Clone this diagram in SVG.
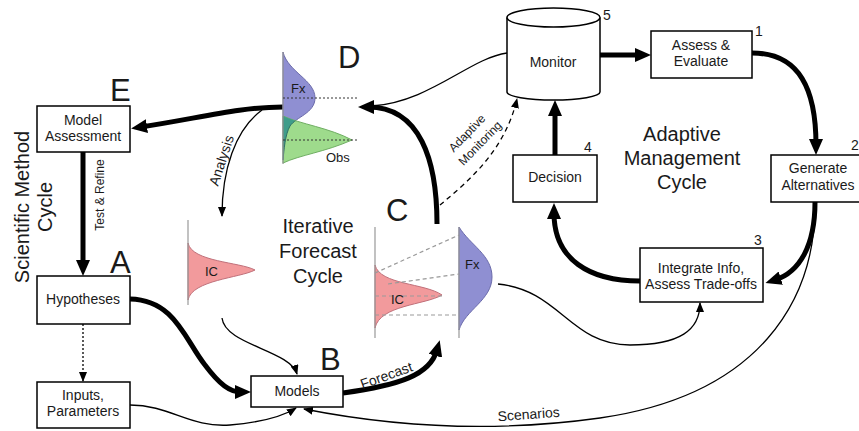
<svg xmlns="http://www.w3.org/2000/svg" width="859" height="431" viewBox="0 0 859 431">
<style>
text{font-family:"Liberation Sans",Arial,sans-serif;fill:#1a1a1a}
.box{fill:#fff;stroke:#000;stroke-width:1.5}
.bt{font-size:14px;text-anchor:middle}
.num{font-size:14px}
.big{font-size:31px}
.cyc{font-size:20px;text-anchor:middle}
.lbl{font-size:14px;text-anchor:middle}
.thick{fill:none;stroke:#000;stroke-width:5}
.thin{fill:none;stroke:#000;stroke-width:1.3}
.axis{stroke:#999;stroke-width:1.2;fill:none}
.dot{stroke:#333;stroke-width:1;stroke-dasharray:2,2;fill:none}
.gdash{stroke:#999;stroke-width:1.2;stroke-dasharray:4,3;fill:none}
</style>
<defs>
<marker id="ahT" viewBox="0 0 16 14" refX="6" refY="7" markerWidth="16" markerHeight="14" markerUnits="userSpaceOnUse" orient="auto"><path d="M0,0 L16,7 L0,14 z" fill="#000"/></marker>
<marker id="ah" viewBox="0 0 10 8" refX="9" refY="4" markerWidth="10" markerHeight="8" markerUnits="userSpaceOnUse" orient="auto"><path d="M0,0 L10,4 L0,8 z" fill="#000"/></marker>
<clipPath id="greenClip"><path d="M283,116 C300,124 330,128 352,140 C325,152 300,155 283,163 Z"/></clipPath>
</defs>

<!-- cycle titles -->
<g id="titles">
<text class="cyc" transform="translate(29,207) rotate(-90)">Scientific Method</text>
<text class="cyc" transform="translate(52,207) rotate(-90)">Cycle</text>
<text class="cyc" x="318" y="233">Iterative</text>
<text class="cyc" x="318" y="258">Forecast</text>
<text class="cyc" x="318" y="283">Cycle</text>
<text class="cyc" x="682" y="141">Adaptive</text>
<text class="cyc" x="682" y="165">Management</text>
<text class="cyc" x="682" y="189">Cycle</text>
</g>

<!-- letters -->
<g id="letters">
<text class="big" x="110" y="101">E</text>
<text class="big" x="338" y="68">D</text>
<text class="big" x="386" y="221">C</text>
<text class="big" x="320" y="370">B</text>
<text class="big" x="110" y="273">A</text>
</g>

<!-- connectors -->
<g id="connectors">
<path class="thick" d="M83,152 L83,266" marker-end="url(#ahT)"/>
<path class="thin" d="M83,324 L83,381" stroke-dasharray="2,2" marker-end="url(#ah)"/>
<path class="thick" d="M283,107 C240,107 200,118 141,127" marker-end="url(#ahT)"/>
<path class="thin" d="M262,110 C235,130 222,170 222,216" marker-end="url(#ah)"/>
<path class="thin" d="M222,318 C225,345 290,350 297,374" marker-end="url(#ah)"/>
<path class="thick" d="M130,299 C175,300 185,340 205,365 C220,385 230,392 241,392" marker-end="url(#ahT)"/>
<path class="thin" d="M130,405 C170,405 190,428 230,425 C265,422 285,415 296,408" marker-end="url(#ah)"/>
<path class="thick" d="M343,393 C400,385 430,375 437,350" marker-end="url(#ahT)"/>
<path class="thin" d="M815,205 C815,300 760,395 600,418 C500,432 400,428 304,409" marker-end="url(#ah)"/>
<path class="thin" d="M498,284 C560,290 570,345 630,345 C680,345 700,330 700,303" marker-end="url(#ah)"/>
<path class="thick" d="M437,224 C437,160 420,107 368,107" marker-end="url(#ahT)"/>
<path class="thin" d="M507,53 C470,58 430,102 372,106"/>
<path class="thin" d="M440,205 C470,180 505,150 517,99" stroke-dasharray="5,4" marker-end="url(#ah)"/>
<path class="thick" d="M555,155 L555,110" marker-end="url(#ahT)"/>
<path class="thick" d="M600,55 L641,55" marker-end="url(#ahT)"/>
<path class="thick" d="M752,53 C800,53 816,90 816,145" marker-end="url(#ahT)"/>
<path class="thick" d="M815,202 C815,245 800,272 775,280" marker-end="url(#ahT)"/>
<path class="thick" d="M640,281 C590,281 554,260 554,213" marker-end="url(#ahT)"/>
<text class="lbl" font-size="12" style="font-size:12px" transform="translate(104,195) rotate(-90)">Test &amp; Refine</text>
<text class="lbl" transform="translate(226,162) rotate(-72)">Analysis</text>
<text class="lbl" transform="translate(388,380) rotate(-20)">Forecast</text>
<text class="lbl" transform="translate(529,419) rotate(-4)">Scenarios</text>
<text class="lbl" style="font-size:12px" transform="translate(470,136) rotate(-46)">Adaptive</text>
<text class="lbl" style="font-size:12px" transform="translate(483,146) rotate(-46)">Monitoring</text>
</g>

<!-- distributions -->
<g id="dist-D">
<path d="M283,52 C288,72 315,80 315,98 C315,113 296,117 290,126 C285,135 284,150 283,160 Z" fill="#8f8fd2" stroke="#6a6aaa" stroke-width="1"/>
<path d="M283,116 C300,124 330,128 352,140 C325,152 300,155 283,163 Z" fill="#9edb8c" stroke="#6fae62" stroke-width="1"/>
<path clip-path="url(#greenClip)" d="M283,52 C288,72 315,80 315,98 C315,113 296,117 290,126 C285,135 284,150 283,160 Z" fill="#3f9d8a" stroke="#2f6f66" stroke-width="1"/>
<path class="axis" d="M283,52 L283,164"/>
<path class="dot" d="M283,98 L357,98 M283,140 L357,140"/>
<text x="291" y="93" style="font-size:13px">Fx</text>
<text x="326" y="162" style="font-size:13px">Obs</text>
</g>

<g id="dist-IC">
<path d="M188,243 C192,262 240,262 255,270 C240,278 192,280 188,300 Z" fill="#f29a9c" stroke="#c0707a" stroke-width="1"/>
<path class="axis" d="M188,220 L188,305"/>
<text x="205" y="276" style="font-size:13px">IC</text>
</g>

<g id="dist-C">
<path d="M375,265 C380,285 425,283 442,295 C425,305 380,305 375,328 Z" fill="#f29a9c" stroke="#c0707a" stroke-width="1"/>
<path d="M459,227 C470,245 492,255 492,277 C492,300 465,310 459,330 Z" fill="#8f8fd2" stroke="#6a6aaa" stroke-width="1"/>
<path class="axis" d="M375,227 L375,338 M459,227 L459,338"/>
<path class="gdash" d="M375,273 L459,235 M388,284 L459,274 M375,296 L442,296 M375,315 L459,315"/>
<text x="391" y="304" style="font-size:13px">IC</text>
<text x="465" y="269" style="font-size:13px">Fx</text>
</g>

<!-- nodes -->
<g id="model-assessment">
<rect class="box" x="37" y="106" width="93" height="46"/>
<text class="bt" x="83" y="125">Model</text>
<text class="bt" x="83" y="141">Assessment</text>
</g>
<g id="hypotheses">
<rect class="box" x="37" y="276" width="93" height="48"/>
<text class="bt" x="83" y="304">Hypotheses</text>
</g>
<g id="inputs">
<rect class="box" x="37" y="382" width="93" height="46"/>
<text class="bt" x="83" y="400">Inputs,</text>
<text class="bt" x="83" y="416">Parameters</text>
</g>
<g id="models">
<rect class="box" x="251" y="376" width="92" height="31"/>
<text class="bt" x="297" y="396">Models</text>
</g>
<g id="monitor">
<path d="M507,17.5 L507,92 A46.5,8 0 0 0 600,92 L600,17.5" fill="#fff" stroke="#000" stroke-width="1.5"/>
<ellipse cx="553.5" cy="17.5" rx="46.5" ry="9.5" fill="#fff" stroke="#000" stroke-width="1.5"/>
<text class="bt" x="553" y="67">Monitor</text>
<text class="num" x="603" y="20">5</text>
</g>
<g id="assess">
<rect class="box" x="651" y="31" width="101" height="47"/>
<text class="bt" x="701" y="50">Assess &amp;</text>
<text class="bt" x="701" y="66">Evaluate</text>
<text class="num" x="755" y="36">1</text>
</g>
<g id="generate">
<rect class="box" x="771" y="155" width="90" height="47"/>
<text class="bt" x="818" y="173">Generate</text>
<text class="bt" x="818" y="190">Alternatives</text>
<text class="num" x="851" y="150">2</text>
</g>
<g id="integrate">
<rect class="box" x="640" y="248" width="123" height="54"/>
<text class="bt" x="701" y="273">Integrate Info,</text>
<text class="bt" x="701" y="289">Assess Trade-offs</text>
<text class="num" x="754" y="245">3</text>
</g>
<g id="decision">
<rect class="box" x="513" y="155" width="84" height="47"/>
<text class="bt" x="555" y="182">Decision</text>
<text class="num" x="584" y="152">4</text>
</g>
</svg>
